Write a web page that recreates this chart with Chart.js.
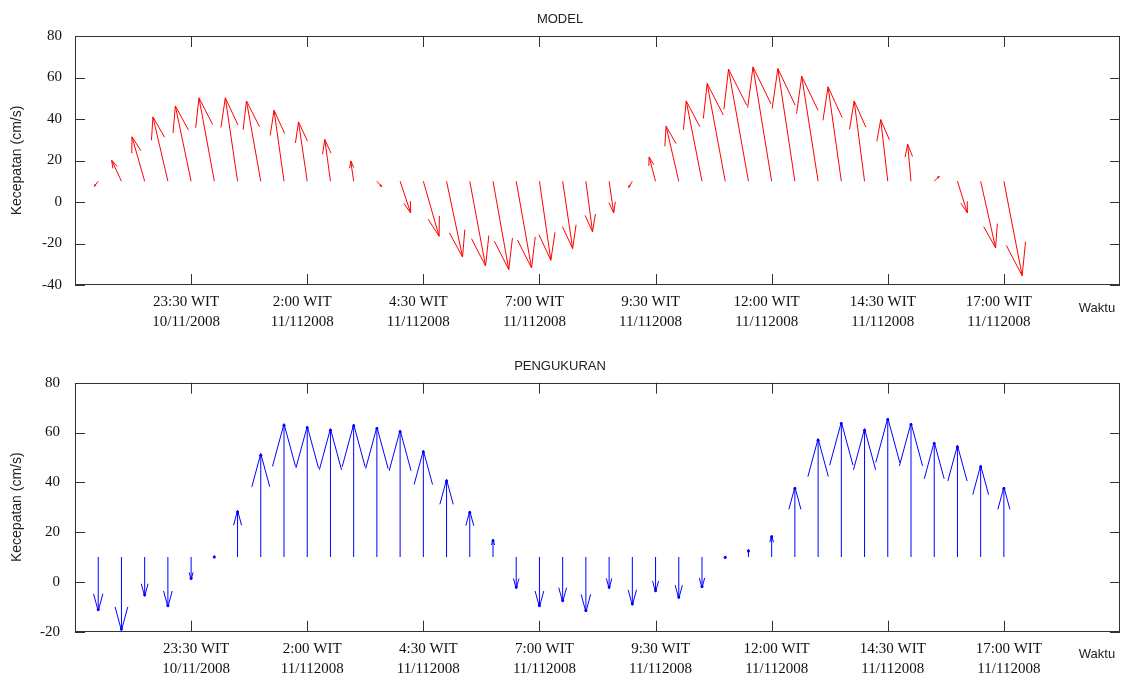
<!DOCTYPE html>
<html>
<head>
<meta charset="utf-8">
<script src="https://cdn.jsdelivr.net/npm/chart.js@4.4.1/dist/chart.umd.min.js"></script>
<style>
html, body { margin: 0; padding: 0; background: #fff; }
.panel { position: absolute; left: 0; width: 1122px; }
#p1 { top: 0; height: 340px; }
#p2 { top: 340px; height: 335px; }
</style>
</head>
<body>
<div class="panel" id="p1"><canvas id="model"></canvas></div>
<div class="panel" id="p2"><canvas id="ukur"></canvas></div>
<script>
// jam sejak 21:00 WIT 10/11/2008, tiap 30 menit
var hours = [0.5, 1, 1.5, 2, 2.5, 3, 3.5, 4, 4.5, 5, 5.5, 6, 6.5, 7, 7.5, 8, 8.5, 9, 9.5, 10,
             10.5, 11, 11.5, 12, 12.5, 13, 13.5, 14, 14.5, 15, 15.5, 16, 16.5, 17, 17.5, 18, 18.5, 19, 19.5, 20];

// MODEL: komponen u (timur) dan v (utara), cm/s
var modelU = [-1.9, -4.7, -6.1, -7.2, -7.6, -7.4, -5.9, -6.9, -4.8, -4.2, -2.7, -1.4, 2.4, 5.1, 7.6, 7.7, 7.6, 7.6, 7.4, 5.5,
              4.8, 3.2, 2.2, -1.8, -3.1, -6.1, -7.6, -8.7, -9.6, -9.0, -8.2, -7.9, -6.4, -5.0, -3.4, -1.6, 2.4, 4.8, 7.2, 8.8];
var modelV = [-2.4, 10.1, 21.4, 31.0, 36.3, 40.2, 40.2, 38.7, 34.2, 28.6, 20.1, 9.8, -2.7, -15.3, -26.5, -36.5, -40.8, -42.6, -41.8, -38.1,
              -32.4, -24.4, -15.3, -3.0, 11.7, 26.5, 38.7, 47.1, 54.0, 55.1, 54.3, 50.6, 45.5, 38.7, 29.7, 17.8, 2.4, -15.3, -32.1, -45.5];

// PENGUKURAN
var ukurU = [0, 0, 0, 0, 0, 0, 0, 0, 0, 0, 0, 0, 0, 0, 0, 0, 0, 0, 0, 0,
             0, 0, 0, 0, 0, 0, 0, 0, 0, 0, 0, 0, 0, 0, 0, 0, 0, 0, 0, 0];
var ukurV = [-21.7, -29.5, -15.8, -20.1, -9.1, 0.5, 18.7, 41.5, 53.5, 52.5, 51.5, 53.3, 52.2, 50.9, 42.8, 31.1, 18.5, 7.1, -12.7, -20.1,
             -18.1, -22.1, -12.7, -19.4, -14.1, -16.7, -12.4, -0.7, 3.0, 8.7, 28.1, 47.5, 54.2, 51.5, 55.8, 53.8, 46.2, 44.8, 36.8, 28.1];

var tickHours = [2.5, 5, 7.5, 10, 12.5, 15, 17.5, 20];
var tickTimes = ['23:30 WIT', '2:00 WIT', '4:30 WIT', '7:00 WIT', '9:30 WIT', '12:00 WIT', '14:30 WIT', '17:00 WIT'];
var tickDates = ['10/11/2008', '11/112008', '11/112008', '11/112008', '11/112008', '11/112008', '11/112008', '11/112008'];

var BASE = 10; // garis dasar vektor

var framePlugin = {
    id: 'frame',
    afterDraw: function(chart) {
        var ctx = chart.ctx, a = chart.chartArea, x = chart.scales.x, y = chart.scales.y;
        ctx.save();
        ctx.strokeStyle = '#333';
        ctx.lineWidth = 1;
        ctx.strokeRect(Math.round(a.left) + 0.5, Math.round(a.top) + 0.5,
                       Math.round(a.right - a.left) - 1, Math.round(a.bottom - a.top) - 1);
        ctx.beginPath();
        tickHours.forEach(function(h) {
            var px = Math.round(x.getPixelForValue(h)) + 0.5;
            ctx.moveTo(px, a.top); ctx.lineTo(px, a.top + 11);
            ctx.moveTo(px, a.bottom); ctx.lineTo(px, a.bottom - 11);
        });
        y.ticks.forEach(function(t) {
            var py = Math.round(y.getPixelForValue(t.value)) + 0.5;
            ctx.moveTo(a.left, py); ctx.lineTo(a.left + 10, py);
            ctx.moveTo(a.right, py); ctx.lineTo(a.right - 10, py);
        });
        ctx.stroke();
        ctx.fillStyle = '#222';
        ctx.font = '13px "Liberation Sans", Arial, sans-serif';
        ctx.textAlign = 'center';
        ctx.textBaseline = 'middle';
        ctx.fillText('Waktu', a.right - 23, a.bottom + 23);
        ctx.restore();
    }
};

function arrowPlugin(u, v, color, alpha, beta, dot) {
    return {
        id: 'arrows',
        afterDatasetsDraw: function(chart) {
            var ctx = chart.ctx, xs = chart.scales.x, ys = chart.scales.y;
            var unit = ys.getPixelForValue(0) - ys.getPixelForValue(1);
            ctx.save();
            ctx.strokeStyle = color;
            ctx.fillStyle = color;
            ctx.lineWidth = 1;
            hours.forEach(function(t, i) {
                var x0 = xs.getPixelForValue(t), y0 = ys.getPixelForValue(BASE);
                var dx = u[i] * unit, dy = -v[i] * unit;
                var x1 = x0 + dx, y1 = y0 + dy;
                ctx.beginPath();
                ctx.moveTo(x0, y0);
                ctx.lineTo(x1, y1);
                ctx.moveTo(x1 - alpha * (dx + beta * dy), y1 - alpha * (dy - beta * dx));
                ctx.lineTo(x1, y1);
                ctx.lineTo(x1 - alpha * (dx - beta * dy), y1 - alpha * (dy + beta * dx));
                ctx.stroke();
                if (dot) {
                    var len = Math.sqrt(dx * dx + dy * dy) || 1;
                    var k = Math.min(1.5, len) / len;
                    ctx.beginPath();
                    ctx.arc(x1 - dx * k, y1 - dy * k, 1.5, 0, Math.PI * 2);
                    ctx.fill();
                }
            });
            ctx.restore();
        }
    };
}

function makeChart(id, cfg) {
    var yTicks = [];
    for (var val = cfg.ymin; val <= 80; val += 20) yTicks.push(val);
    return new Chart(document.getElementById(id), {
        type: 'scatter',
        data: {
            datasets: [{
                data: hours.map(function(t, i) { return {x: t + cfg.u[i] * 0.045, y: BASE + cfg.v[i]}; }),
                pointRadius: 0,
                showLine: false
            }]
        },
        options: {
            responsive: true,
            maintainAspectRatio: false,
            animation: false,
            events: [],
            layout: { padding: { left: 0, right: 2, top: 0, bottom: 0 } },
            plugins: {
                legend: { display: false },
                tooltip: { enabled: false },
                title: {
                    display: true,
                    text: cfg.title,
                    color: '#222',
                    font: { family: '"Liberation Sans", Arial, sans-serif', size: 13, weight: 'normal', lineHeight: 1.2 },
                    padding: { top: cfg.titleTop, bottom: cfg.titleBottom }
                }
            },
            scales: {
                x: {
                    type: 'linear',
                    min: 0,
                    max: 22.5,
                    grid: { display: false, drawTicks: false },
                    border: { display: false },
                    afterBuildTicks: function(s) { s.ticks = tickHours.map(function(h) { return {value: h}; }); },
                    afterFit: function(s) { s.height = cfg.xHeight; },
                    ticks: {
                        autoSkip: false,
                        maxRotation: 0,
                        padding: 7,
                        labelOffset: cfg.labelOffset,
                        color: '#111',
                        font: { family: '"Liberation Serif", "Times New Roman", serif', size: 15, lineHeight: 1.33 },
                        callback: function(value) {
                            var i = tickHours.indexOf(value);
                            return [tickTimes[i], tickDates[i]];
                        }
                    }
                },
                y: {
                    min: cfg.ymin,
                    max: 80,
                    grid: { display: false, drawTicks: false },
                    border: { display: false },
                    afterBuildTicks: function(s) { s.ticks = yTicks.map(function(t) { return {value: t}; }); },
                    afterFit: function(s) { s.width = 75; },
                    title: {
                        display: true,
                        text: 'Kecepatan (cm/s)',
                        color: '#222',
                        font: { family: '"Liberation Sans", Arial, sans-serif', size: 14, lineHeight: 1.2 },
                        padding: { top: 9, bottom: 0 }
                    },
                    ticks: {
                        padding: cfg.yPad,
                        color: '#111',
                        font: { family: '"Liberation Serif", "Times New Roman", serif', size: 15 }
                    }
                }
            }
        },
        plugins: [framePlugin, arrowPlugin(cfg.u, cfg.v, cfg.color, cfg.alpha, cfg.beta, cfg.dot)]
    });
}

makeChart('model', {
    title: 'MODEL', u: modelU, v: modelV, color: '#ff0000', ymin: -40,
    titleTop: 12, titleBottom: 8.4, xHeight: 55, labelOffset: -5, yPad: 13,
    alpha: 0.34, beta: 0.3, dot: false
});
makeChart('ukur', {
    title: 'PENGUKURAN', u: ukurU, v: ukurV, color: '#0000ff', ymin: -20,
    titleTop: 18.2, titleBottom: 8.9, xHeight: 43.3, labelOffset: 5, yPad: 15,
    alpha: 0.32, beta: 0.27, dot: true
});
</script>
</body>
</html>
